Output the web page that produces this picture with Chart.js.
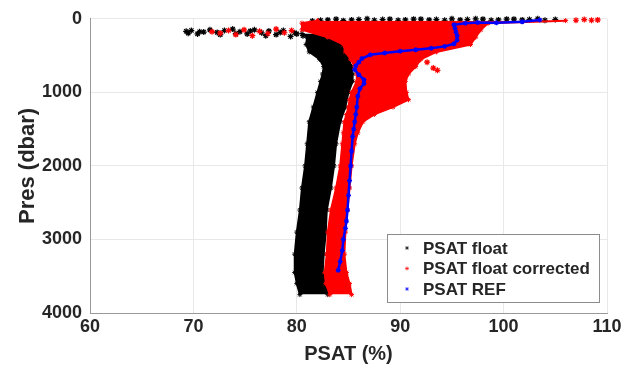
<!DOCTYPE html>
<html>
<head>
<meta charset="utf-8">
<script src="https://cdn.jsdelivr.net/npm/chart.js@4.4.0/dist/chart.umd.min.js"></script>
<style>
    html, body { margin: 0; padding: 0; background: #fff; }
    #psatChart { display: block; }
</style>
</head>
<body>
<canvas id="psatChart" width="626" height="367"></canvas>
<script>
// PSAT float (black): edges of the dense profile cloud
const blackPres = [200, 250, 350, 450, 550, 650, 750, 850, 1000, 1200, 1400, 1700, 2000, 2300, 2600, 2900, 3200, 3450, 3600, 3750];
const blackLeft = [80.5, 81.0, 80.9, 81.2, 82.2, 82.6, 82.5, 82.3, 82.0, 81.6, 81.2, 81.0, 80.8, 80.5, 80.3, 80.0, 79.8, 79.8, 80.0, 80.3];
const blackRight = [83.0, 84.0, 84.5, 84.8, 85.0, 85.3, 85.4, 85.4, 85.0, 84.7, 84.2, 83.8, 83.6, 83.3, 82.9, 82.8, 82.6, 82.5, 82.8, 83.0];

// PSAT float: scattered surface values
const blackSurfPsat = [69.3, 69.5, 69.8, 70.4, 70.6, 71.0, 71.6, 72.3, 72.6, 73.0, 73.8, 74.1, 74.5, 75.2, 75.5, 75.9, 76.6, 77.0, 77.3, 78.0, 78.4, 78.7, 79.4, 79.8, 80.0, 80.6];
const blackSurfPres = [170, 195, 160, 205, 175, 180, 150, 185, 215, 160, 140, 200, 175, 205, 165, 150, 190, 230, 165, 215, 185, 160, 240, 190, 205, 230];
const blackTopPsat = [81.5, 82.3, 83.0, 83.8, 84.5, 85.3, 86.0, 86.8, 87.5, 88.3, 89.0, 89.8, 90.5, 91.3, 92.0, 92.8, 93.5, 94.3, 95.0, 95.8, 96.5, 97.3, 98.0, 98.8, 99.5, 100.3, 101.0, 101.8, 102.5, 103.3, 104.0, 105.0];
const blackTopPres = [30, 20, 15, 5, 25, 15, 10, 0, 20, 10, 5, 20, 15, 5, 5, 15, 10, 20, 0, 15, 10, 0, 5, 20, 15, 5, 5, 15, 10, 0, 20, 10];

// PSAT float corrected (red)
const redPres = [25, 60, 150, 250, 350, 450, 550, 650, 750, 850, 1000, 1100, 1200, 1300, 1400, 1550, 1700, 2000, 2300, 2600, 2900, 3200, 3450, 3600, 3750];
const redLeft = [82.0, 80.5, 80.5, 83.0, 84.5, 84.7, 85.2, 85.6, 85.8, 85.8, 85.3, 85.1, 85.0, 84.8, 84.6, 84.5, 84.4, 84.2, 83.8, 83.3, 83.0, 82.9, 82.7, 82.8, 83.2];
const redRight = [106.0, 98.5, 97.8, 97.3, 96.8, 93.5, 92.0, 91.5, 90.8, 90.5, 90.6, 90.8, 89.3, 87.5, 86.4, 85.9, 85.6, 85.3, 85.1, 84.9, 84.7, 84.6, 84.8, 85.1, 85.3];
const redSurfPsat = [71.8, 72.6, 73.4, 74.1, 74.9, 75.7, 76.4, 77.2, 78.0, 78.8, 79.5, 91.8, 92.6, 93.2, 93.6, 107.0, 107.8, 108.5, 109.1];
const redSurfPres = [175, 195, 160, 215, 150, 230, 170, 200, 140, 190, 160, 560, 590, 670, 700, 20, 10, 20, 15];

// PSAT REF (blue)
const bluePsat = [103.5, 101.8, 99.3, 97.5, 96.3, 95.2, 95.3, 95.4, 95.5, 95.5, 95.2, 94.3, 93.0, 91.5, 90.0, 88.5, 87.1, 86.3, 86.0, 85.7, 85.6, 86.0, 86.5, 86.5, 86.1, 85.9, 85.8, 85.7, 85.6, 85.5, 85.4, 85.3, 85.2, 85.1, 85.0, 84.9, 84.8, 84.7, 84.5, 84.4, 84.2, 84.0];
const bluePres = [15, 40, 55, 50, 60, 80, 130, 180, 230, 290, 340, 375, 400, 420, 440, 465, 490, 540, 590, 640, 690, 760, 830, 880, 950, 1050, 1200, 1300, 1400, 1500, 1600, 1800, 2000, 2200, 2400, 2600, 2750, 2850, 3000, 3150, 3300, 3420];

const xTicks = [60, 70, 80, 90, 100, 110];
const yTicks = [0, 1000, 2000, 3000, 4000];

const seriesLabels = ['PSAT float', 'PSAT float corrected', 'PSAT REF'];
const seriesColors = ['#000000', '#ff0000', '#0000ff'];

const toPoints = (xs, ps) => xs.map((x, i) => ({x: x, y: ps[i]}));

const fontFamily = "'Liberation Sans', Arial, Helvetica, sans-serif";
const textColor = '#262626';

const edgeSet = (xs, ps, color, order, fill) => ({
    data: toPoints(xs, ps),
    borderColor: color,
    backgroundColor: color,
    borderWidth: 2,
    pointStyle: 'star',
    pointRadius: 2.5,
    pointBorderWidth: 1,
    fill: fill,
    order: order,
    clip: 6
});

const scatterSet = (xs, ps, color, order) => ({
    data: toPoints(xs, ps),
    showLine: false,
    borderColor: color,
    backgroundColor: color,
    pointStyle: 'star',
    pointRadius: 3,
    pointBorderWidth: 1.2,
    order: order,
    clip: 6
});

// legend box drawn inside the plot, bottom right
const legendBox = {
    id: 'legendBox',
    afterDraw(chart) {
        const {ctx, chartArea} = chart;
        const w = 212, h = 68;
        const right = chartArea.right - 8;
        const bottom = chartArea.bottom - 11;
        const left = right - w, top = bottom - h;
        ctx.save();
        ctx.fillStyle = '#fff';
        ctx.fillRect(left, top, w, h);
        ctx.strokeStyle = '#8c8c8c';
        ctx.lineWidth = 1;
        ctx.strokeRect(left + 0.5, top + 0.5, w, h);
        ctx.font = `bold 17px ${fontFamily}`;
        ctx.textBaseline = 'middle';
        seriesLabels.forEach((label, i) => {
            const y = top + 14 + i * 20.5;
            ctx.strokeStyle = seriesColors[i];
            ctx.globalAlpha = 0.6;
            Chart.helpers.drawPoint(ctx, {pointStyle: 'star', radius: 2, borderWidth: 1, rotation: 0}, left + 20, y);
            ctx.globalAlpha = 1;
            ctx.fillStyle = textColor;
            ctx.fillText(label, left + 36, y + 1);
        });
        ctx.restore();
    }
};

new Chart(document.getElementById('psatChart'), {
    type: 'line',
    data: {
        datasets: [
            edgeSet(blackLeft, blackPres, '#000', 3, '+1'),
            edgeSet(blackRight, blackPres, '#000', 3, false),
            scatterSet(blackSurfPsat, blackSurfPres, '#000', 3),
            scatterSet(blackTopPsat, blackTopPres, '#000', 3),
            edgeSet(redLeft, redPres, '#ff0000', 2, '+1'),
            edgeSet(redRight, redPres, '#ff0000', 2, false),
            scatterSet(redSurfPsat, redSurfPres, '#ff0000', 2),
            {
                data: toPoints(bluePsat, bluePres),
                borderColor: '#0000ff',
                backgroundColor: '#0000ff',
                borderWidth: 2.5,
                pointStyle: 'star',
                pointRadius: 2.5,
                pointBorderWidth: 1.2,
                fill: false,
                order: 1,
                clip: 6
            }
        ]
    },
    options: {
        indexAxis: 'y',
        responsive: false,
        animation: false,
        events: [],
        layout: {
            padding: {top: 17, right: 19, bottom: 0, left: 0}
        },
        plugins: {
            legend: {display: false},
            tooltip: {enabled: false},
            filler: {propagate: false}
        },
        scales: {
            x: {
                type: 'linear',
                position: 'bottom',
                min: 60,
                max: 110,
                afterBuildTicks: (scale) => { scale.ticks = xTicks.map(v => ({value: v})); },
                afterFit: (scale) => { scale.height = 54; },
                grid: {color: '#e8e8e8', drawTicks: false},
                border: {color: '#999', width: 1},
                ticks: {
                    padding: 3,
                    color: textColor,
                    font: {family: fontFamily, size: 18, weight: 'bold'},
                    maxRotation: 0,
                    callback: (value) => String(value)
                },
                title: {
                    display: true,
                    text: 'PSAT (%)',
                    color: textColor,
                    font: {family: fontFamily, size: 20, weight: 'bold', lineHeight: 1},
                    padding: {top: 0, bottom: 3}
                }
            },
            y: {
                type: 'linear',
                position: 'left',
                reverse: true,
                min: 0,
                max: 4000,
                afterBuildTicks: (scale) => { scale.ticks = yTicks.map(v => ({value: v})); },
                afterFit: (scale) => { scale.width = 90; },
                grid: {color: '#e8e8e8', drawTicks: false},
                border: {color: '#999', width: 1},
                ticks: {
                    padding: 8,
                    color: textColor,
                    font: {family: fontFamily, size: 18, weight: 'bold'},
                    callback: (value) => String(value)
                },
                title: {
                    display: true,
                    text: 'Pres (dbar)',
                    color: textColor,
                    font: {family: fontFamily, size: 22, weight: 'bold', lineHeight: 1},
                    padding: {top: 17, bottom: 0}
                }
            }
        }
    },
    plugins: [legendBox]
});
</script>
</body>
</html>
